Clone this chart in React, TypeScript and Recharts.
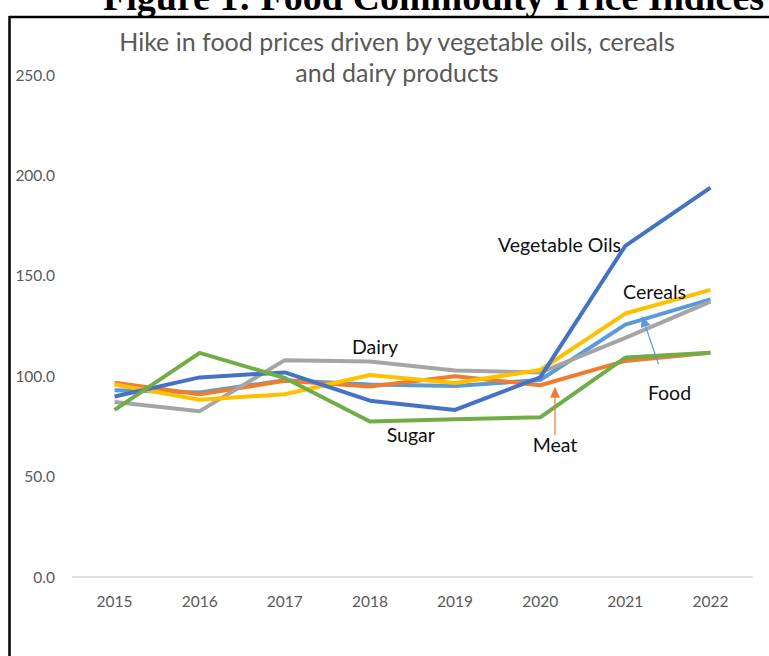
import React from "react";
import { LineChart, Line, XAxis, YAxis, ReferenceLine, ReferenceDot } from "recharts";

const years = ["2015", "2016", "2017", "2018", "2019", "2020", "2021", "2022"];
const food = [93.0, 91.9, 98.0, 95.9, 95.1, 98.1, 125.7, 138.3];
const vegOils = [89.9, 99.4, 101.9, 87.8, 83.2, 99.4, 164.9, 193.9];
const dairy = [87.1, 82.6, 108.0, 107.3, 102.8, 101.8, 119.1, 137.1];
const cereals = [95.9, 88.3, 91.0, 100.6, 96.6, 103.1, 131.2, 143.0];
const meat = [96.7, 91.0, 97.7, 94.9, 100.0, 95.5, 107.6, 111.7];
const sugar = [83.2, 111.6, 99.1, 77.4, 78.6, 79.5, 109.3, 111.7];
const yTicks = [0, 50, 100, 150, 200, 250];

const labels = [
  { text: "Dairy", x: 3.06, y: 115 },
  { text: "Sugar", x: 3.48, y: 71.2 },
  { text: "Vegetable Oils", x: 5.227, y: 165.8 },
  { text: "Cereals", x: 6.343, y: 142.4 },
  { text: "Food", x: 6.519, y: 91.9 },
  { text: "Meat", x: 5.174, y: 66 },
];

const arrows = [
  { color: "#ED7D31", from: { x: 5.174, y: 70.7 }, to: { x: 5.174, y: 94.8 } },
  { color: "#5B9BD5", from: { x: 6.39, y: 106 }, to: { x: 6.196, y: 130 } },
];

const data = years.map((yr, i) => ({
  idx: i,
  food: food[i],
  vegOils: vegOils[i],
  dairy: dairy[i],
  cereals: cereals[i],
  meat: meat[i],
  sugar: sugar[i],
}));

const FONT = "Lato, 'Open Sans', sans-serif";

const ArrowShape = (color: string) => (p: any) => {
  const { x1, y1, x2, y2 } = p;
  const dx = x2 - x1;
  const dy = y2 - y1;
  const len = Math.sqrt(dx * dx + dy * dy) || 1;
  const ux = dx / len;
  const uy = dy / len;
  const hl = 11;
  const hw = 5;
  const bx = x2 - ux * hl;
  const by = y2 - uy * hl;
  const pts = `${x2},${y2} ${bx - uy * hw},${by + ux * hw} ${bx + uy * hw},${by - ux * hw}`;
  return (
    <g>
      <line x1={x1} y1={y1} x2={bx} y2={by} stroke={color} strokeWidth={1.25} />
      <polygon points={pts} fill={color} />
    </g>
  );
};

const LabelShape = (text: string) => (p: any) => (
  <text
    x={p.cx}
    y={p.cy}
    textAnchor="middle"
    dominantBaseline="central"
    fontFamily={FONT}
    fontSize={19.5}
    fill="#111"
  >
    {text}
  </text>
);

export default function App() {
  return (
    <div style={{ position: "absolute", left: 0, top: 0, width: 769, height: 656, overflow: "hidden", background: "#fff" }}>
      <div style={{ position: "absolute", left: 0, top: 0 }}>
        <LineChart width={769} height={656} data={data} margin={{ top: 75, right: 16, bottom: 0, left: 0 }}>
          <XAxis
            dataKey="idx"
            type="number"
            domain={[-0.5, 7.5]}
            ticks={[0, 1, 2, 3, 4, 5, 6, 7]}
            tickFormatter={(v: number) => years[v]}
            height={79}
            tickLine={false}
            tickSize={0}
            tickMargin={19}
            axisLine={{ stroke: "#D9D9D9", strokeWidth: 1.5 }}
            tick={{ fill: "#595959", fontSize: 15.5, fontFamily: FONT }}
          />
          <YAxis
            domain={[0, 250]}
            ticks={yTicks}
            tickFormatter={(v: number) => v.toFixed(1)}
            width={72}
            axisLine={false}
            tickLine={false}
            tickSize={0}
            tickMargin={17}
            tick={{ fill: "#595959", fontSize: 15.5, fontFamily: FONT }}
          />
          <Line dataKey="food" stroke="#5B9BD5" strokeWidth={4} dot={false} isAnimationActive={false} strokeLinejoin="round" />
          <Line dataKey="meat" stroke="#ED7D31" strokeWidth={4} dot={false} isAnimationActive={false} strokeLinejoin="round" />
          <Line dataKey="dairy" stroke="#A5A5A5" strokeWidth={4} dot={false} isAnimationActive={false} strokeLinejoin="round" />
          <Line dataKey="cereals" stroke="#FFC000" strokeWidth={4} dot={false} isAnimationActive={false} strokeLinejoin="round" />
          <Line dataKey="vegOils" stroke="#4472C4" strokeWidth={4} dot={false} isAnimationActive={false} strokeLinejoin="round" />
          <Line dataKey="sugar" stroke="#70AD47" strokeWidth={4} dot={false} isAnimationActive={false} strokeLinejoin="round" />
          {arrows.map((a, i) => (
            <ReferenceLine
              key={"a" + i}
              segment={[a.from, a.to]}
              stroke={a.color}
              ifOverflow="visible"
              shape={ArrowShape(a.color)}
            />
          ))}
          {labels.map((l) => (
            <ReferenceDot
              key={l.text}
              x={l.x}
              y={l.y}
              r={1}
              ifOverflow="visible"
              shape={LabelShape(l.text)}
            />
          ))}
        </LineChart>
      </div>
      <svg width={769} height={656} style={{ position: "absolute", left: 0, top: 0, pointerEvents: "none" }}>
        <text x={103} y={10} fontFamily="'Liberation Serif', 'Times New Roman', serif" fontWeight="bold" fontSize={38} fill="#000">
          Figure 1: Food Commodity Price Indices
        </text>
        <line x1={9} y1={17} x2={769} y2={17} stroke="#000" strokeWidth={2.5} />
        <line x1={9.5} y1={16} x2={9.5} y2={656} stroke="#000" strokeWidth={2.5} />
        <text x={397} y={51} textAnchor="middle" fontFamily={FONT} fontSize={25} fill="#595959">
          Hike in food prices driven by vegetable oils, cereals
        </text>
        <text x={397} y={82} textAnchor="middle" fontFamily={FONT} fontSize={25} fill="#595959">
          and dairy products
        </text>
      </svg>
    </div>
  );
}
